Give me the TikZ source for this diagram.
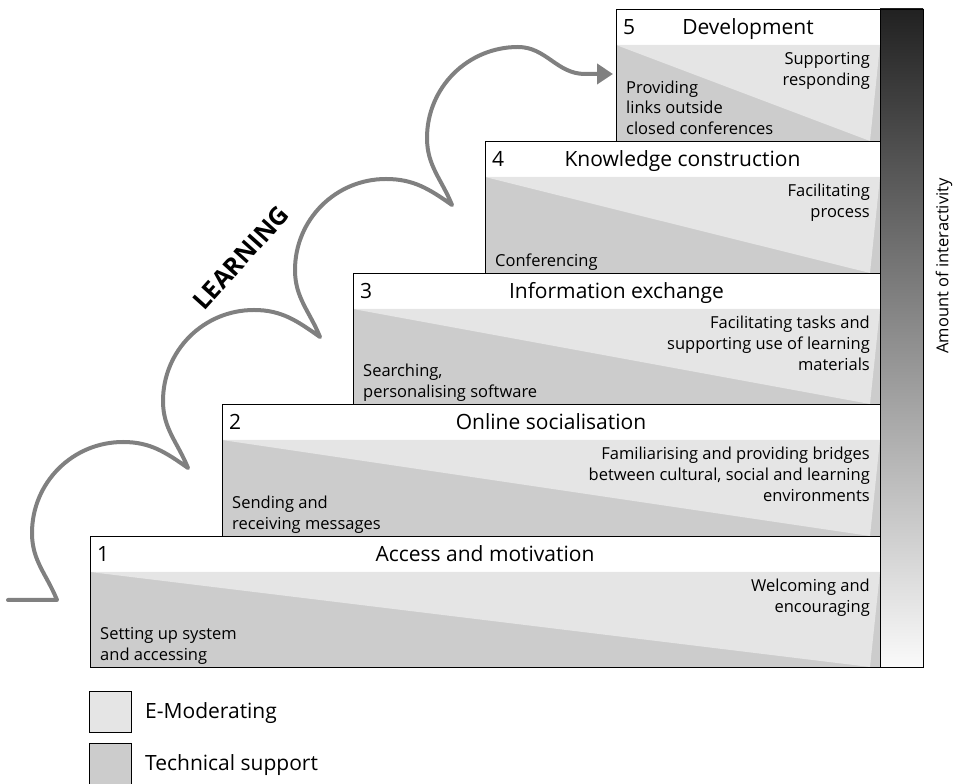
\documentclass[tikz,border=0pt]{standalone}
\usepackage{fontspec}
\setmainfont{Open Sans}
\usepackage{xcolor}
\usetikzlibrary{arrows.meta,positioning,calc}

\definecolor{emod}{gray}{0.9}
\definecolor{techsup}{gray}{0.8}
\definecolor{loopgray}{gray}{0.5}

\begin{document}
\begin{tikzpicture}[x=1pt,y=1pt,
    stage/.style={draw=black,line width=0.8pt},
    num/.style={anchor=base west,inner sep=0pt,font=\fontsize{21}{24}\selectfont},
    stagetitle/.style={anchor=base,inner sep=0pt,font=\fontsize{21}{24}\selectfont},
    rtext/.style={anchor=north east,align=right,inner sep=0pt,font=\fontsize{16.5}{21}\selectfont},
    ltext/.style={anchor=south west,align=left,inner sep=0pt,font=\fontsize{16.5}{20.5}\selectfont},
    learn/.style={draw=loopgray,line width=4pt,line cap=round,line join=round}]
    \useasboundingbox (0,0) rectangle (953,784);

    % amount of interactivity bar
    \shade[top color=black!87,bottom color=black!2] (880,117) rectangle (923,775);
    \draw[stage] (880,117) rectangle (923,775);
    \node[rotate=90,font=\fontsize{16.5}{20}\selectfont] (amount) at (944,518) {Amount of interactivity};

    % stage 1
    \fill[techsup] (90,117) rectangle (880,212);
    \fill[emod] (90,212) -- (880,212) -- (870,117) -- cycle;
    \draw[stage] (90,117) rectangle (880,248);
    \node[num] (n1) at (97,222) {1};
    \node[stagetitle] (t1) at (485,222) {Access and motivation};
    \node[rtext] (e1) at (870,207.7) {\strut Welcoming and\\encouraging};
    \node[ltext] (s1) at (100,117.5) {Setting up system\\and accessing\strut};

    % stage 2
    \fill[techsup] (222,248) rectangle (880,344);
    \fill[emod] (222,344) -- (880,344) -- (870,248) -- cycle;
    \draw[stage] (222,248) rectangle (880,380);
    \node[num] (n2) at (229,354) {2};
    \node[stagetitle] (t2) at (551,354) {Online socialisation};
    \node[rtext] (e2) at (870,339.7) {\strut Familiarising and providing bridges\\between cultural, social and learning\\environments};
    \node[ltext] (s2) at (232,248.5) {Sending and\\receiving messages\strut};

    % stage 3
    \fill[techsup] (353,380) rectangle (880,475);
    \fill[emod] (353,475) -- (880,475) -- (870,380) -- cycle;
    \draw[stage] (353,380) rectangle (880,511);
    \node[num] (n3) at (360,485) {3};
    \node[stagetitle] (t3) at (616.5,485) {Information exchange};
    \node[rtext] (e3) at (870,470.7) {\strut Facilitating tasks and\\supporting use of learning\\materials};
    \node[ltext] (s3) at (363,380.5) {Searching,\\personalising software\strut};

    % stage 4
    \fill[techsup] (485,511) rectangle (880,607);
    \fill[emod] (485,607) -- (880,607) -- (870,511) -- cycle;
    \draw[stage] (485,511) rectangle (880,643);
    \node[num] (n4) at (492,617) {4};
    \node[stagetitle] (t4) at (682.5,617) {Knowledge construction};
    \node[rtext] (e4) at (870,602.7) {\strut Facilitating\\process};
    \node[ltext] (s4) at (495,511.5) {Conferencing\strut};

    % stage 5
    \fill[techsup] (616,643) rectangle (880,739);
    \fill[emod] (616,739) -- (880,739) -- (870,643) -- cycle;
    \draw[stage] (616,643) rectangle (880,775);
    \node[num] (n5) at (623,749) {5};
    \node[stagetitle] (t5) at (748,749) {Development};
    \node[rtext] (e5) at (870,734.7) {\strut Supporting\\responding};
    \node[ltext] (s5) at (626,643.5) {Providing\\links outside\\closed conferences\strut};

    % learning loops
    \coordinate (c0) at (8,184);
    \coordinate (c1) at (57,184);
    \coordinate (c2) at (188,316);
    \coordinate (c3) at (320,447);
    \coordinate (c4) at (452,579);
    \coordinate (c5) at (613,710);
    \draw[learn,-{Triangle[length=16pt,width=20pt]}] (c0) -- (c1)
      to[out=112,in=270] ++(-25,67) to[out=90,in=180] ++(91,91) to[out=0,in=145] (c2)
      to[out=112,in=270] ++(-25,67) to[out=90,in=180] ++(91,91) to[out=0,in=145] (c3)
      to[out=112,in=270] ++(-25,67) to[out=90,in=180] ++(91,91) to[out=0,in=145] (c4)
      to[out=112,in=270] ++(-25,67) to[out=90,in=180] ++(91,91) to[out=0,in=180] (585,710) -- (c5);
    \node[rotate=48,font=\fontsize{25}{28}\bfseries] (learning) at (241,526) {LEARNING};

    % legend
    \draw[stage,fill=emod] (89,52) rectangle (131,93);
    \draw[stage,fill=techsup] (89,-2) rectangle (131,41);
    \node[anchor=base west,inner sep=0pt,font=\fontsize{21}{24}\selectfont] (lemod) at (145,65) {E-Moderating};
    \node[anchor=base west,inner sep=0pt,font=\fontsize{21}{24}\selectfont] (ltech) at (145,13.5) {Technical support};
  \end{tikzpicture}
\end{document}
